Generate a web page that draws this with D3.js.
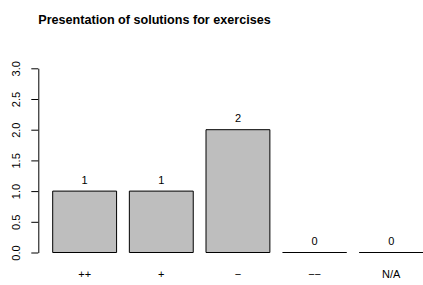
<!DOCTYPE html>
<html>
<head>
<meta charset="utf-8">
<script src="https://cdn.jsdelivr.net/npm/d3@7"></script>
<style>
  body { margin: 0; background: #fff; }
  text { font-family: "Liberation Sans", Arial, Helvetica, sans-serif; }
</style>
</head>
<body>
<svg id="chart" width="423" height="285"></svg>
<script>
// data
var categories = ["++", "+", "−", "−−", "N/A"];
var counts = [1, 1, 2, 0, 0];
var yTicks = [0, 0.5, 1, 1.5, 2, 2.5, 3];
var title = "Presentation of solutions for exercises";

var svg = d3.select("#chart");

var xScale = d3.scaleBand()
    .domain(categories)
    .range([52.7, 423.2])
    .paddingInner(0.2 / 1.2)
    .paddingOuter(0);

var yScale = d3.scaleLinear()
    .domain([0, 3])
    .range([252.5, 68.3]);

// title
svg.append("text")
    .attr("x", 38.3)
    .attr("y", 23.5)
    .attr("font-size", "12.6px")
    .attr("font-weight", "bold")
    .text(title);

// y axis
var yAxis = d3.axisLeft(yScale)
    .tickValues(yTicks)
    .tickFormat(d3.format(".1f"))
    .tickSize(7)
    .tickSizeOuter(0);

var yg = svg.append("g")
    .attr("transform", "translate(38.3,0)")
    .call(yAxis);

yg.select(".domain").attr("stroke", "#000");
yg.selectAll(".tick line").attr("stroke", "#000");
yg.selectAll(".tick text")
    .attr("x", 0)
    .attr("dy", 0)
    .attr("transform", "translate(-18,0) rotate(-90)")
    .attr("text-anchor", "middle")
    .attr("font-size", "11px")
    .attr("font-family", "Liberation Sans, Arial, sans-serif")
    .attr("fill", "#000");

// bars (paths so that zero-height bars still show their outline)
svg.selectAll(".bar")
    .data(counts)
    .enter()
    .append("path")
    .classed("bar", true)
    .attr("d", (d, i) => {
        var x = xScale(categories[i]), w = xScale.bandwidth();
        var y0 = yScale(0), y1 = yScale(d);
        return "M" + x + "," + y0 + "H" + (x + w) + "V" + y1 + "H" + x + "Z";
    })
    .attr("fill", "#bebebe")
    .attr("stroke", "#000")
    .attr("stroke-width", 1);

// value labels
svg.selectAll(".val")
    .data(counts)
    .enter()
    .append("text")
    .classed("val", true)
    .attr("x", (d, i) => xScale(categories[i]) + xScale.bandwidth() / 2)
    .attr("y", d => yScale(d) - 7.5)
    .attr("text-anchor", "middle")
    .attr("font-size", "11px")
    .text(d => d);

// category labels
svg.selectAll(".cat")
    .data(categories)
    .enter()
    .append("text")
    .classed("cat", true)
    .attr("x", d => xScale(d) + xScale.bandwidth() / 2)
    .attr("y", 278.3)
    .attr("text-anchor", "middle")
    .attr("font-size", "11px")
    .text(d => d);
</script>
</body>
</html>
